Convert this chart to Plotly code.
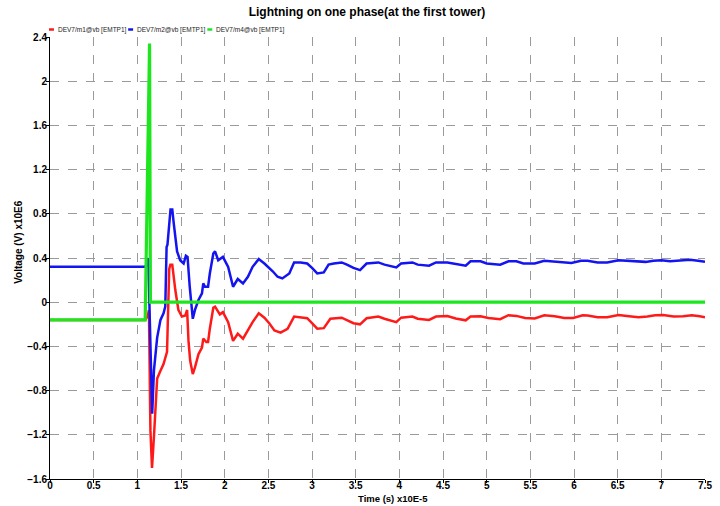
import plotly.graph_objects as go

# Time in units of 1e-5 s, voltage in units of 1e6 V
m1_t = [0, 1.09, 1.12, 1.133, 1.15, 1.168, 1.19, 1.21, 1.227, 1.265, 1.30, 1.34, 1.35, 1.365, 1.378, 1.40,
        1.435, 1.47, 1.51, 1.55, 1.57, 1.586, 1.605, 1.635, 1.66, 1.70, 1.74, 1.755, 1.79, 1.81, 1.83, 1.87,
        1.89, 1.945, 1.98, 2.04, 2.096, 2.15, 2.21, 2.266, 2.32, 2.39, 2.455, 2.51, 2.57, 2.64, 2.72, 2.795,
        2.87, 2.945, 3.0, 3.06, 3.135, 3.21, 3.34, 3.40, 3.475, 3.55, 3.625, 3.76, 3.83, 3.965, 4.02, 4.15,
        4.21, 4.34, 4.42, 4.55, 4.645, 4.76, 4.815, 4.93, 5.02, 5.155, 5.25, 5.34, 5.44, 5.55, 5.66, 5.78,
        5.89, 5.99, 6.10, 6.155, 6.27, 6.38, 6.51, 6.63, 6.74, 6.84, 6.93, 7.02, 7.14, 7.25, 7.35, 7.44, 7.5]
m1_v = [-0.16, -0.16, -0.12, -0.07, -1.16, -1.50, -1.22, -0.86, -0.69, -0.62, -0.56, -0.45, -0.16, 0.30, 0.34, 0.34,
        0.11, -0.07, -0.13, -0.12, -0.07, -0.35, -0.53, -0.65, -0.59, -0.47, -0.41, -0.33, -0.36, -0.36, -0.24, -0.05,
        -0.04, -0.11, -0.09, -0.18, -0.35, -0.285, -0.33, -0.255, -0.18, -0.10, -0.14, -0.19, -0.255, -0.276, -0.24, -0.13,
        -0.135, -0.145, -0.19, -0.24, -0.235, -0.15, -0.14, -0.16, -0.19, -0.20, -0.145, -0.13, -0.15, -0.18, -0.14, -0.13,
        -0.15, -0.16, -0.13, -0.125, -0.148, -0.164, -0.13, -0.127, -0.142, -0.154, -0.118, -0.124, -0.142, -0.148, -0.118, -0.127,
        -0.142, -0.142, -0.118, -0.12, -0.136, -0.136, -0.115, -0.127, -0.136, -0.13, -0.118, -0.115, -0.13, -0.127, -0.118, -0.127, -0.136]

m2_t = [0, 1.084, 1.10, 1.125, 1.17, 1.19, 1.227, 1.265, 1.30, 1.32, 1.335, 1.345, 1.38, 1.40, 1.416, 1.455,
        1.49, 1.53, 1.556, 1.575, 1.60, 1.635, 1.66, 1.70, 1.74, 1.755, 1.775, 1.81, 1.83, 1.87, 1.89, 1.926,
        1.98, 2.04, 2.096, 2.15, 2.21, 2.266, 2.32, 2.39, 2.455, 2.51, 2.55, 2.606, 2.66, 2.74, 2.795, 2.87,
        2.945, 3.0, 3.06, 3.135, 3.19, 3.25, 3.34, 3.40, 3.475, 3.55, 3.625, 3.76, 3.83, 3.965, 4.02, 4.15,
        4.21, 4.34, 4.42, 4.55, 4.645, 4.76, 4.815, 4.93, 5.0, 5.155, 5.25, 5.34, 5.42, 5.55, 5.66, 5.76,
        5.85, 5.97, 6.08, 6.155, 6.27, 6.38, 6.51, 6.61, 6.72, 6.82, 6.91, 7.00, 7.10, 7.21, 7.33, 7.42, 7.5]
m2_v = [0.32, 0.32, 0.33, 0.40, -1.01, -0.62, -0.32, -0.16, -0.10, -0.04, 0.50, 0.52, 0.84, 0.84, 0.72, 0.46,
        0.38, 0.35, 0.42, 0.41, 0.14, -0.15, -0.07, 0.02, 0.08, 0.17, 0.14, 0.14, 0.26, 0.44, 0.46, 0.38,
        0.41, 0.32, 0.14, 0.21, 0.17, 0.23, 0.32, 0.39, 0.35, 0.31, 0.28, 0.23, 0.215, 0.26, 0.36, 0.36,
        0.35, 0.31, 0.26, 0.27, 0.34, 0.35, 0.36, 0.34, 0.31, 0.29, 0.35, 0.36, 0.34, 0.315, 0.35, 0.36,
        0.34, 0.33, 0.36, 0.36, 0.345, 0.33, 0.37, 0.37, 0.35, 0.34, 0.37, 0.37, 0.35, 0.35, 0.375, 0.37,
        0.36, 0.355, 0.375, 0.375, 0.36, 0.36, 0.38, 0.375, 0.365, 0.365, 0.375, 0.38, 0.37, 0.375, 0.385, 0.375, 0.365]

m4_t = [0, 1.09, 1.14, 1.15, 7.5]
m4_v = [-0.16, -0.16, 2.34, 0.0, 0.0]

series_names = ["DEV7/m1@vb [EMTP1]", "DEV7/m2@vb [EMTP1]", "DEV7/m4@vb [EMTP1]"]
series_colors = ["#ff1a1a", "#1414f0", "#1ee61e"]
series_widths = [2.5, 2.5, 3.2]

x_ticks = [0, 0.5, 1, 1.5, 2, 2.5, 3, 3.5, 4, 4.5, 5, 5.5, 6, 6.5, 7, 7.5]
y_ticks = [-1.6, -1.2, -0.8, -0.4, 0, 0.4, 0.8, 1.2, 1.6, 2, 2.4]

FONT = "Liberation Sans"

fig = go.Figure()
for t, v, name, col, wd in zip([m1_t, m2_t, m4_t], [m1_v, m2_v, m4_v], series_names, series_colors, series_widths):
    fig.add_trace(go.Scatter(x=t, y=v, mode="lines", name=name,
                             line=dict(color=col, width=wd), showlegend=False))

# Plot-area geometry in pixels
L, R, T, B = 50, 712, 37, 479
W, H = R - L, B - T
def px_x(p):
    return (p - L) / W
def px_y(p):
    return (B - p) / H

# Legend drawn as short colored marks + text, like the reference
legend_x = [49, 129, 209]
for lx, name, col in zip(legend_x, series_names, series_colors):
    fig.add_shape(type="line", xref="paper", yref="paper",
                  x0=px_x(lx), x1=px_x(lx + 5), y0=px_y(29.5), y1=px_y(29.5),
                  line=dict(color=col, width=2.5))
    fig.add_annotation(xref="paper", yref="paper", x=px_x(lx + 7), y=px_y(29.5),
                       xanchor="left", yanchor="middle", showarrow=False,
                       text=name, font=dict(family=FONT, size=6.5, color="#222"))

fig.add_annotation(xref="paper", yref="paper", x=px_x(18), y=px_y(241.5),
                   textangle=-90, showarrow=False, xanchor="center", yanchor="middle",
                   text="Voltage (V) x10E6",
                   font=dict(family=FONT, size=10, color="black", weight="bold"))
fig.add_annotation(xref="paper", yref="paper", x=px_x(397), y=px_y(498),
                   showarrow=False, xanchor="center", yanchor="middle",
                   text="Time (s) x10E-5",
                   font=dict(family=FONT, size=9.5, color="black", weight="bold"))

axis_common = dict(showgrid=True, gridcolor="#9a9a9a", griddash="dash", gridwidth=1,
                   showline=True, linecolor="black", linewidth=1, zeroline=False,
                   ticks="outside", ticklen=3, tickcolor="black",
                   tickfont=dict(family=FONT, size=10, color="black", weight="bold"))

fig.update_layout(
    width=720, height=506,
    margin=dict(l=L, r=720 - R, t=T, b=506 - B),
    plot_bgcolor="white", paper_bgcolor="white",
    title=dict(text="Lightning on one phase(at the first tower)", x=367 / 720, xref="container",
               xanchor="center", y=1 - 12 / 506, yanchor="middle",
               font=dict(family=FONT, size=12, color="black", weight="bold")),
    xaxis=dict(range=[0, 7.5], tickvals=x_ticks, ticktext=[f"{v:g}" for v in x_ticks],
               ticklabelstandoff=-6, **axis_common),
    yaxis=dict(range=[-1.6, 2.4], tickvals=y_ticks,
               ticktext=[f"{v:g}".replace("-", "\u2212") for v in y_ticks],
               ticklabelstandoff=-3, **axis_common),
)

fig.write_html("out.html", config={"displayModeBar": False},
               post_script="document.body.style.margin='0';document.body.style.overflow='hidden';")
